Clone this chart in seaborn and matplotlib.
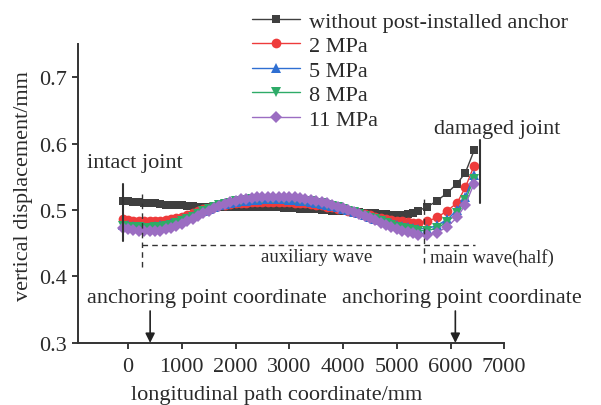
import matplotlib
matplotlib.use("Agg")
import matplotlib.pyplot as plt
import seaborn as sns
import pandas as pd

# ---- data ----
x_mm = [-100, 0, 100, 200, 300, 400, 500, 600, 700, 800, 900, 1000, 1100, 1200, 1300,
        1400, 1500, 1600, 1700, 1800, 1900, 2000, 2100, 2200, 2300, 2400, 2500, 2600,
        2700, 2800, 2900, 3000, 3100, 3200, 3300, 3400, 3500, 3600, 3700, 3800, 3900,
        4000, 4100, 4200, 4300, 4400, 4500, 4600, 4700, 4800, 4900, 5000, 5100, 5200,
        5300, 5400, 5570, 5750, 5940, 6125, 6275, 6440]

no_anchor = [0.513, 0.513, 0.512, 0.512, 0.511, 0.510, 0.510, 0.509, 0.508, 0.508, 0.507,
             0.507, 0.506, 0.506, 0.505, 0.505, 0.505, 0.505, 0.504, 0.504, 0.504, 0.504,
             0.504, 0.504, 0.504, 0.504, 0.504, 0.504, 0.504, 0.504, 0.503, 0.503, 0.503,
             0.502, 0.502, 0.501, 0.501, 0.500, 0.500, 0.499, 0.499, 0.498, 0.498, 0.497,
             0.497, 0.496, 0.495, 0.495, 0.494, 0.494, 0.493, 0.493, 0.493, 0.494, 0.496,
             0.499, 0.505, 0.514, 0.526, 0.540, 0.556, 0.590]

mpa2 = [0.486, 0.485, 0.484, 0.483, 0.483, 0.483, 0.483, 0.484, 0.485, 0.486, 0.488,
        0.490, 0.492, 0.495, 0.498, 0.501, 0.503, 0.505, 0.507, 0.508, 0.509, 0.510,
        0.511, 0.511, 0.512, 0.512, 0.512, 0.512, 0.512, 0.512, 0.512, 0.512, 0.511,
        0.511, 0.510, 0.509, 0.508, 0.507, 0.505, 0.504, 0.502, 0.501, 0.499, 0.497,
        0.495, 0.494, 0.492, 0.490, 0.488, 0.487, 0.485, 0.484, 0.483, 0.482, 0.481,
        0.481, 0.483, 0.489, 0.499, 0.511, 0.534, 0.567]

mpa5 = [0.478, 0.477, 0.476, 0.475, 0.475, 0.475, 0.476, 0.477, 0.478, 0.480, 0.482,
        0.485, 0.488, 0.491, 0.495, 0.498, 0.502, 0.505, 0.507, 0.509, 0.511, 0.512,
        0.513, 0.514, 0.515, 0.515, 0.516, 0.516, 0.516, 0.516, 0.516, 0.515, 0.515,
        0.514, 0.513, 0.512, 0.511, 0.509, 0.508, 0.506, 0.504, 0.502, 0.500, 0.497,
        0.495, 0.492, 0.490, 0.487, 0.485, 0.482, 0.480, 0.478, 0.476, 0.474, 0.473,
        0.472, 0.472, 0.477, 0.486, 0.500, 0.520, 0.553]

mpa8 = [0.476, 0.475, 0.474, 0.474, 0.473, 0.473, 0.474, 0.475, 0.476, 0.478, 0.481,
        0.483, 0.487, 0.490, 0.494, 0.498, 0.501, 0.504, 0.507, 0.509, 0.511, 0.513,
        0.514, 0.515, 0.516, 0.516, 0.517, 0.517, 0.517, 0.517, 0.517, 0.516, 0.516,
        0.515, 0.514, 0.513, 0.511, 0.510, 0.508, 0.506, 0.504, 0.502, 0.499, 0.497,
        0.494, 0.491, 0.488, 0.486, 0.483, 0.480, 0.478, 0.475, 0.473, 0.471, 0.470,
        0.469, 0.469, 0.473, 0.482, 0.496, 0.515, 0.547]

mpa11 = [0.473, 0.471, 0.470, 0.469, 0.468, 0.468, 0.468, 0.469, 0.471, 0.473, 0.476,
         0.479, 0.483, 0.487, 0.491, 0.495, 0.499, 0.503, 0.506, 0.509, 0.512, 0.514,
         0.516, 0.517, 0.518, 0.519, 0.520, 0.520, 0.520, 0.520, 0.520, 0.519, 0.519,
         0.518, 0.517, 0.515, 0.514, 0.512, 0.510, 0.508, 0.505, 0.503, 0.500, 0.497,
         0.494, 0.491, 0.488, 0.485, 0.481, 0.478, 0.475, 0.472, 0.469, 0.467, 0.465,
         0.463, 0.462, 0.466, 0.475, 0.489, 0.508, 0.540]

series_names = ["without post-installed anchor", "2 MPa", "5 MPa", "8 MPa", "11 MPa"]
series_values = [no_anchor, mpa2, mpa5, mpa8, mpa11]
series_colors = ["#3f3f3f", "#ee3b3b", "#2f6fd2", "#2eab68", "#9b6dc2"]
series_markers = ["s", "o", "^", "v", "D"]
marker_sizes = [6, 7, 7, 7, 6]

x_ticks = [0, 1000, 2000, 3000, 4000, 5000, 6000, 7000]
y_ticks = [0.3, 0.4, 0.5, 0.6, 0.7]

# ---- style ----
sns.set_theme(style="ticks")
plt.rcParams["font.family"] = ["Liberation Serif", "DejaVu Serif"]
FS = 16
tc = "#2a2a2a"

fig = plt.figure(figsize=(6.01, 4.06), dpi=100)
ax = fig.add_axes([0.130, 0.153, 0.709, 0.736])

for name, vals, col, mk, ms in zip(series_names, series_values, series_colors,
                                   series_markers, marker_sizes):
    df = pd.DataFrame({"x": x_mm, "y": vals})
    sns.lineplot(data=df, x="x", y="y", ax=ax, color=col, marker=mk, markersize=ms,
                 markeredgewidth=0, linewidth=1.0, label=name, zorder=3)

ax.set_xlim(-930, 7000)
ax.set_ylim(0.3, 0.75)
ax.set_xticks(x_ticks)
ax.set_yticks(y_ticks)
ax.set_xticklabels([str(t) for t in x_ticks])
ax.set_yticklabels([f"{t:.1f}" for t in y_ticks])
ax.tick_params(labelsize=FS, colors=tc, length=4, width=1.3, pad=4)
ax.tick_params(axis="x", pad=6)
for s in ["top", "right"]:
    ax.spines[s].set_visible(False)
for s in ["left", "bottom"]:
    ax.spines[s].set_linewidth(1.4)
    ax.spines[s].set_color("#333333")

ax.set_xlabel("longitudinal path coordinate/mm", fontsize=FS, color=tc)
ax.xaxis.set_label_coords((276 - 78) / 426, -(386 - 344) / 299)
ax.set_ylabel("vertical displacement/mm", fontsize=FS, color=tc)
ax.yaxis.set_label_coords(-(78 - 33) / 426, (344 - 186) / 299)

# reference lines
ax.plot([-90, -90], [0.453, 0.540], color="#333333", lw=1.5, zorder=4)
ax.plot([6555, 6555], [0.510, 0.605], color="#333333", lw=1.5, zorder=4)
ax.plot([260, 260], [0.414, 0.524], color="#333333", lw=1.0, ls=(0, (4, 3)), zorder=4)
ax.plot([5510, 5510], [0.420, 0.520], color="#333333", lw=1.0, ls=(0, (4, 3)), zorder=4)
ax.plot([260, 6460], [0.448, 0.448], color="#333333", lw=1.0, ls=(0, (4, 3)), zorder=4)

# annotations
ax.text(-760, 0.571, "intact joint", fontsize=FS, color=tc, ha="left", va="center")
ax.text(6870, 0.623, "damaged joint", fontsize=FS, color=tc, ha="center", va="center",
        clip_on=False)
ax.text(3500, 0.430, "auxiliary wave", fontsize=FS - 2.5, color=tc, ha="center", va="center")
ax.text(5620, 0.430, "main wave(half)", fontsize=FS - 2.5, color=tc, ha="left", va="center",
        clip_on=False)
ax.text(1470, 0.369, "anchoring point coordinate", fontsize=FS, color=tc, ha="center",
        va="center")
ax.text(6220, 0.369, "anchoring point coordinate", fontsize=FS, color=tc, ha="center",
        va="center", clip_on=False)
for xa in [410, 6090]:
    ax.annotate("", xy=(xa, 0.300), xytext=(xa, 0.348),
                arrowprops=dict(arrowstyle="-|>", color="#222222", lw=1.2,
                                mutation_scale=14, shrinkA=0, shrinkB=0))

leg = ax.legend(loc="upper left", bbox_to_anchor=(252 / 601, 1 - 12 / 406),
                bbox_transform=fig.transFigure, frameon=False, fontsize=FS,
                handlelength=2.15, labelspacing=0.18, handletextpad=0.4,
                borderaxespad=0, borderpad=0, markerscale=1.0)
for t in leg.get_texts():
    t.set_color(tc)

fig.savefig("out.png", dpi=100)
